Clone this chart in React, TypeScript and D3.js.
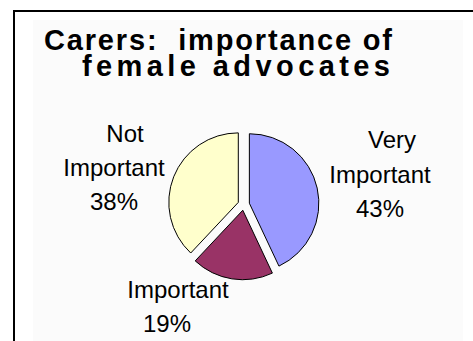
import React from "react";
import * as d3 from "d3";

const categories = ["Very Important", "Important", "Not Important"];
const values = [43, 19, 38];
const colors = ["#9999FF", "#993366", "#FFFFCC"];
const titleLines = ["Carers:  importance of", "female advocates"];
const labelLines = [
  ["Very", "Important", "43%"],
  ["Important", "19%"],
  ["Not", "Important", "38%"],
];

const W = 473;
const H = 341;
const cx = 243.7;
const cy = 204.5;
const R = 69.5;
const explode = 5.8;

// label layout: [x of first line, x of other lines, baseline of first line, line step]
const labelLayout = [
  { x0: 392, x1: 380, y0: 148, dy: 34.5 },
  { x0: 178, x1: 167, y0: 298, dy: 34 },
  { x0: 125, x1: 114, y0: 142, dy: 34 },
];

export default function App() {
  const pie = d3.pie<number>().sort(null).value((d) => d).startAngle(0).endAngle(2 * Math.PI);
  const arcs = pie(values);
  const arc = d3.arc<d3.PieArcDatum<number>>().innerRadius(0).outerRadius(R);
  const font = "'Liberation Sans', Arial, sans-serif";
  return (
    <svg
      width={W}
      height={H}
      style={{ position: "absolute", left: 0, top: 0, background: "#fff" }}
    >
      <rect x={0} y={0} width={W} height={H} fill="#ffffff" />
      <rect x={33} y={20} width={430} height={H - 20} fill="#fbfbfb" />
      <line x1={13} y1={11} x2={W} y2={11} stroke="#000" strokeWidth={2} />
      <line x1={14} y1={10} x2={14} y2={H} stroke="#000" strokeWidth={2} />
      <text
        x={44}
        y={49.5}
        fontFamily={font}
        fontWeight="bold"
        fontSize={29}
        textLength={348}
        lengthAdjust="spacing"
        fill="#000"
        style={{ whiteSpace: "pre" }}
      >
        {titleLines[0]}
      </text>
      <text
        x={82}
        y={76}
        fontFamily={font}
        fontWeight="bold"
        fontSize={29}
        textLength={308}
        lengthAdjust="spacing"
        fill="#000"
      >
        {titleLines[1]}
      </text>
      {arcs.map((a, i) => {
        const mid = (a.startAngle + a.endAngle) / 2;
        const tx = cx + Math.sin(mid) * explode;
        const ty = cy - Math.cos(mid) * explode;
        return (
          <path
            key={categories[i]}
            d={arc(a) || ""}
            transform={`translate(${tx},${ty})`}
            fill={colors[i]}
            stroke="#000"
            strokeWidth={1}
          />
        );
      })}
      {labelLines.map((lines, i) => {
        const L = labelLayout[i];
        return (
          <g key={i} fontFamily={font} fontSize={24} fill="#000" textAnchor="middle">
            {lines.map((t, j) => (
              <text key={j} x={j === 0 ? L.x0 : L.x1} y={L.y0 + j * L.dy}>
                {t}
              </text>
            ))}
          </g>
        );
      })}
    </svg>
  );
}
